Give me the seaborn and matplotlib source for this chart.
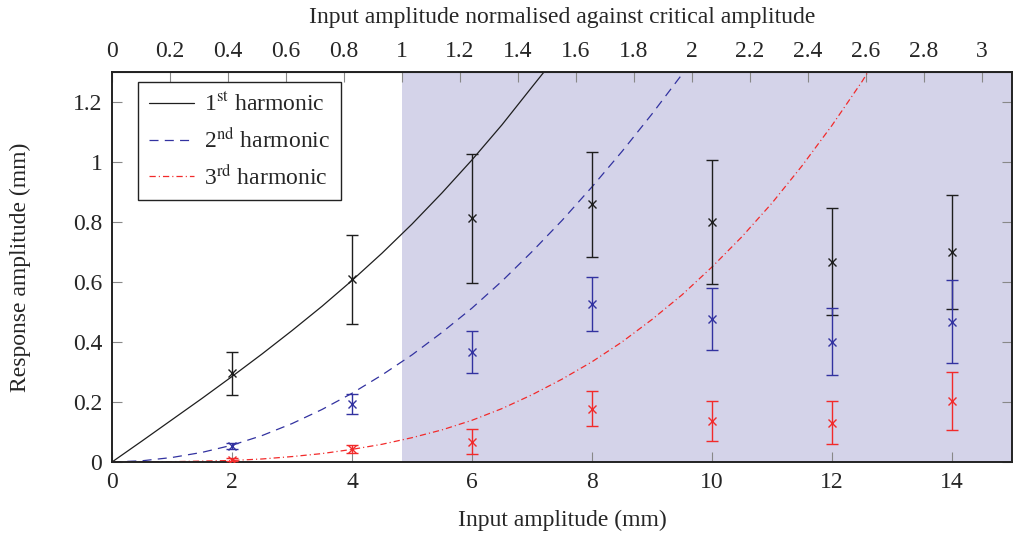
import numpy as np
import pandas as pd
import seaborn as sns
import matplotlib.pyplot as plt
from matplotlib.ticker import FuncFormatter, MultipleLocator, FixedLocator

# critical amplitude (mm) used for the top axis
crit = 4.833
top_ticks = [0, 0.2, 0.4, 0.6, 0.8, 1, 1.2, 1.4, 1.6, 1.8, 2, 2.2, 2.4, 2.6, 2.8, 3]

# measured points with error bars
amp = [2, 4, 6, 8, 10, 12, 14]
h1 = [0.296, 0.609, 0.812, 0.859, 0.799, 0.667, 0.700]
h1_err = [0.072, 0.148, 0.216, 0.175, 0.206, 0.178, 0.190]
h2 = [0.053, 0.193, 0.366, 0.528, 0.477, 0.401, 0.467]
h2_err = [0.010, 0.033, 0.069, 0.090, 0.103, 0.112, 0.138]
h3 = [0.008, 0.042, 0.068, 0.178, 0.137, 0.131, 0.203]
h3_err = [0.004, 0.013, 0.042, 0.059, 0.066, 0.071, 0.098]

# fitted curves, every 0.5 mm
fit1_x = [0, 0.5, 1, 1.5, 2, 2.5, 3, 3.5, 4, 4.5, 5, 5.5, 6, 6.5, 7, 7.2]
fit1_y = [0, 0.070, 0.141, 0.212, 0.285, 0.360, 0.438, 0.519, 0.605, 0.696,
          0.793, 0.897, 1.007, 1.124, 1.250, 1.3]
fit2_x = [0, 0.5, 1, 1.5, 2, 2.5, 3, 3.5, 4, 4.5, 5, 5.5, 6, 6.5, 7, 7.5,
          8, 8.5, 9, 9.5, 9.55]
fit2_y = [0, 0.004, 0.015, 0.032, 0.056, 0.088, 0.128, 0.175, 0.229, 0.290,
          0.357, 0.432, 0.513, 0.603, 0.701, 0.805, 0.917, 1.035, 1.160, 1.292, 1.3]
fit3_x = [0, 1, 2, 2.5, 3, 3.5, 4, 4.5, 5, 5.5, 6, 6.5, 7, 7.5, 8, 8.5, 9,
          9.5, 10, 10.5, 11, 11.5, 12, 12.5, 12.6]
fit3_y = [0, 0.001, 0.005, 0.010, 0.018, 0.028, 0.042, 0.059, 0.081, 0.107,
          0.139, 0.178, 0.224, 0.276, 0.334, 0.400, 0.475, 0.557, 0.650, 0.751,
          0.863, 0.987, 1.122, 1.268, 1.3]

black = '#1e1e1e'
blue = '#3232a0'
red = '#f22a2a'
shade = '#d4d3e9'

sns.set_style('ticks')
plt.rcParams['font.family'] = ['Liberation Serif', 'DejaVu Serif']
plt.rcParams['mathtext.fontset'] = 'stix'
plt.rcParams['font.size'] = 17
plt.rcParams['lines.scale_dashes'] = False

fig, ax = plt.subplots(figsize=(10.13, 5.37), dpi=100)
fig.subplots_adjust(left=0.1106, right=0.999, bottom=0.1397, top=0.866)

ax.axvspan(crit, 15, color=shade, lw=0, zorder=0)

sns.lineplot(x=fit1_x, y=fit1_y, ax=ax, color=black, lw=0.9,
             label=r'1$^{\mathrm{st}}$ harmonic')
sns.lineplot(x=fit2_x, y=fit2_y, ax=ax, color=blue, lw=0.9,
             linestyle=(0, (6.5, 4.5)), label=r'2$^{\mathrm{nd}}$ harmonic')
sns.lineplot(x=fit3_x, y=fit3_y, ax=ax, color=red, lw=0.9,
             linestyle=(0, (4.5, 2.2, 0.8, 2.2)), label=r'3$^{\mathrm{rd}}$ harmonic')

for y, e, c in [(h1, h1_err, black), (h2, h2_err, blue), (h3, h3_err, red)]:
    ax.errorbar(amp, y, yerr=e, fmt='x', color=c, ms=6, mew=1,
                elinewidth=1, capsize=4, capthick=1, zorder=3)

ax.set_xlim(0, 15)
ax.set_ylim(0, 1.3)
ax.xaxis.set_major_locator(MultipleLocator(2))
ax.yaxis.set_major_locator(MultipleLocator(0.2))
fmt = FuncFormatter(lambda v, p: '%g' % round(v, 2))
ax.xaxis.set_major_formatter(fmt)
ax.yaxis.set_major_formatter(fmt)
ax.tick_params(direction='in', length=7, width=0.8, color='#888888',
               right=True, top=False, pad=7)

for s in ax.spines.values():
    s.set_linewidth(1.4)
    s.set_color('#222222')

top = ax.secondary_xaxis('top', functions=(lambda x: x / crit, lambda x: x * crit))
top.xaxis.set_major_locator(FixedLocator(top_ticks))
top.xaxis.set_major_formatter(fmt)
top.tick_params(direction='in', length=7, width=0.8, color='#888888', pad=7)
top.set_xlabel('Input amplitude normalised against critical amplitude', labelpad=13)

ax.set_xlabel('Input amplitude (mm)', labelpad=12)
ax.set_ylabel('Response amplitude (mm)', labelpad=30)

leg = ax.legend(loc='upper left', bbox_to_anchor=(0.029, 0.974), borderaxespad=0,
                fancybox=False, framealpha=1, edgecolor='#222222',
                handlelength=1.9, handletextpad=0.45, labelspacing=0.5,
                borderpad=0.45)
leg.get_frame().set_linewidth(1.0)

plt.savefig('out.png', dpi=100)
